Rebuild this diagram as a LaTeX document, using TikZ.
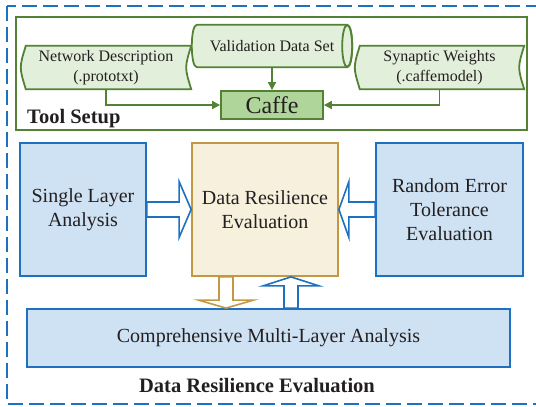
\documentclass[tikz,border=0pt]{standalone}
\usepackage{fontspec}
\setmainfont{Liberation Serif}
\usetikzlibrary{calc,arrows.meta,backgrounds}

\definecolor{lineblue}{RGB}{30,112,192}
\definecolor{fillblue}{RGB}{207,226,243}
\definecolor{linegreen}{RGB}{84,130,53}
\definecolor{tapefill}{RGB}{226,239,218}
\definecolor{caffefill}{RGB}{176,213,155}
\definecolor{linegold}{RGB}{196,152,66}
\definecolor{creamfill}{RGB}{246,240,220}
\definecolor{txt}{RGB}{35,31,32}

\begin{document}
\begin{tikzpicture}[x=1pt,y=-1pt,
  textnode/.style={draw=none,inner sep=0pt,align=center,text=txt},
  bluebox/.style={textnode,draw=lineblue,fill=fillblue,line width=1.8pt,
    font=\fontsize{20}{24}\selectfont},
  creambox/.style={bluebox,draw=linegold,fill=creamfill},
  smalltext/.style={textnode,font=\fontsize{16}{20}\selectfont},
  gline/.style={draw=linegreen,line width=1.8pt},
  garrow/.style={draw=linegreen,line width=1.8pt,
    -{Triangle[length=8pt,width=8pt]}},
  blockblue/.style={draw=lineblue,fill=white,line width=1.6pt,line join=miter},
  blockgold/.style={draw=linegold,fill=white,line width=1.6pt,line join=miter},
  heading/.style={textnode,font=\fontsize{20.5}{24}\selectfont\bfseries}]

\useasboundingbox (0,0) rectangle (536,407);

% ---------- outer frame and tool setup frame ----------
\draw[lineblue,line width=1.8pt,dash pattern=on 15pt off 6pt] (7,6) rectangle (548,404);
\draw[gline] (16,17) rectangle (527,130);

% ---------- tool setup texts ----------
\node[smalltext,minimum width=170pt,minimum height=43pt] (net) at (106,67.5)
  {Network Description\\(.prototxt)};
\node[smalltext,minimum width=169pt,minimum height=43pt] (syn) at (439.5,67.5)
  {Synaptic Weights\\(.caffemodel)};
\node[smalltext,minimum width=160pt,minimum height=42pt] (vds) at (272,46)
  {Validation Data Set};
\node[textnode,draw=linegreen,fill=caffefill,line width=1.8pt,
  minimum width=102pt,minimum height=28pt,font=\fontsize{24}{28}\selectfont]
  (caffe) at (272,105) {Caffe};
\node[heading,anchor=base west] (tool) at (27,123) {Tool Setup};

\begin{scope}[on background layer]
  % stored-data shapes
  \foreach \n in {net,syn}{
    \draw[gline,fill=tapefill]
      ($(\n.north west)+(5,0)$) -- (\n.north east)
      .. controls ($(\n.east)+(-6.67,0)$) .. (\n.south east)
      -- ($(\n.south west)+(5,0)$)
      .. controls ($(\n.west)+(-1.67,0)$) .. ($(\n.north west)+(5,0)$) -- cycle;
  }
  % horizontal cylinder
  \draw[gline,fill=tapefill]
    ($(vds.north west)+(5,0)$) -- ($(vds.north east)+(-5,0)$)
    .. controls ($(vds.north east)+(1.67,0)$) and ($(vds.south east)+(1.67,0)$)
    .. ($(vds.south east)+(-5,0)$)
    -- ($(vds.south west)+(5,0)$)
    .. controls ($(vds.south west)+(-1.67,0)$) and ($(vds.north west)+(-1.67,0)$)
    .. ($(vds.north west)+(5,0)$) -- cycle;
  \draw[gline] ($(vds.east)+(-5,0)$) ellipse [x radius=5, y radius=21];
\end{scope}

\draw[garrow] (net.south) |- (caffe.west);
\draw[garrow] (syn.south) |- (caffe.east);
\draw[garrow] (vds.south) -- (caffe.north);

% ---------- data resilience evaluation ----------
\node[bluebox,minimum width=126pt,minimum height=133pt] (sla) at (83,209.5)
  {Single Layer\\Analysis};
\node[creambox,minimum width=146pt,minimum height=133pt] (dre) at (265,209.5)
  {Data Resilience\\Evaluation};
\node[bluebox,minimum width=147pt,minimum height=133pt] (rnd) at (449.5,209.5)
  {Random Error\\Tolerance\\Evaluation};
\node[bluebox,minimum width=483pt,minimum height=58pt] (cma) at (268.5,338)
  {Comprehensive Multi-Layer Analysis};
\node[heading,anchor=base] (drtitle) at (257,392) {Data Resilience Evaluation};

% block arrows into the evaluation box
\draw[blockblue]
  ($(sla.east)+(0,-7.5)$) -- ($(dre.west)+(-12,-7.5)$) -- ($(dre.west)+(-12,-28)$)
  -- (dre.west) -- ($(dre.west)+(-12,28)$) -- ($(dre.west)+(-12,7.5)$)
  -- ($(sla.east)+(0,7.5)$) -- cycle;
\draw[blockblue]
  ($(rnd.west)+(0,-7.5)$) -- ($(dre.east)+(10,-7.5)$) -- ($(dre.east)+(10,-28)$)
  -- (dre.east) -- ($(dre.east)+(10,28)$) -- ($(dre.east)+(10,7.5)$)
  -- ($(rnd.west)+(0,7.5)$) -- cycle;

% vertical block arrows between evaluation and multi-layer analysis
\coordinate (dn) at ($(dre.south)+(-39,0)$);
\coordinate (dnTip) at (dn |- cma.north);
\draw[blockgold]
  ($(dn)+(-7,0)$) -- ($(dnTip)+(-7,-8)$) -- ($(dnTip)+(-27.5,-8)$)
  -- (dnTip) -- ($(dnTip)+(27.5,-8)$) -- ($(dnTip)+(7,-8)$)
  -- ($(dn)+(7,0)$) -- cycle;
\coordinate (up) at ($(cma.north)+(22.5,0)$);
\coordinate (upTip) at (up |- dre.south);
\draw[blockblue]
  ($(up)+(-7,0)$) -- ($(upTip)+(-7,9)$) -- ($(upTip)+(-28,9)$)
  -- (upTip) -- ($(upTip)+(28,9)$) -- ($(upTip)+(7,9)$)
  -- ($(up)+(7,0)$) -- cycle;

\end{tikzpicture}
\end{document}
